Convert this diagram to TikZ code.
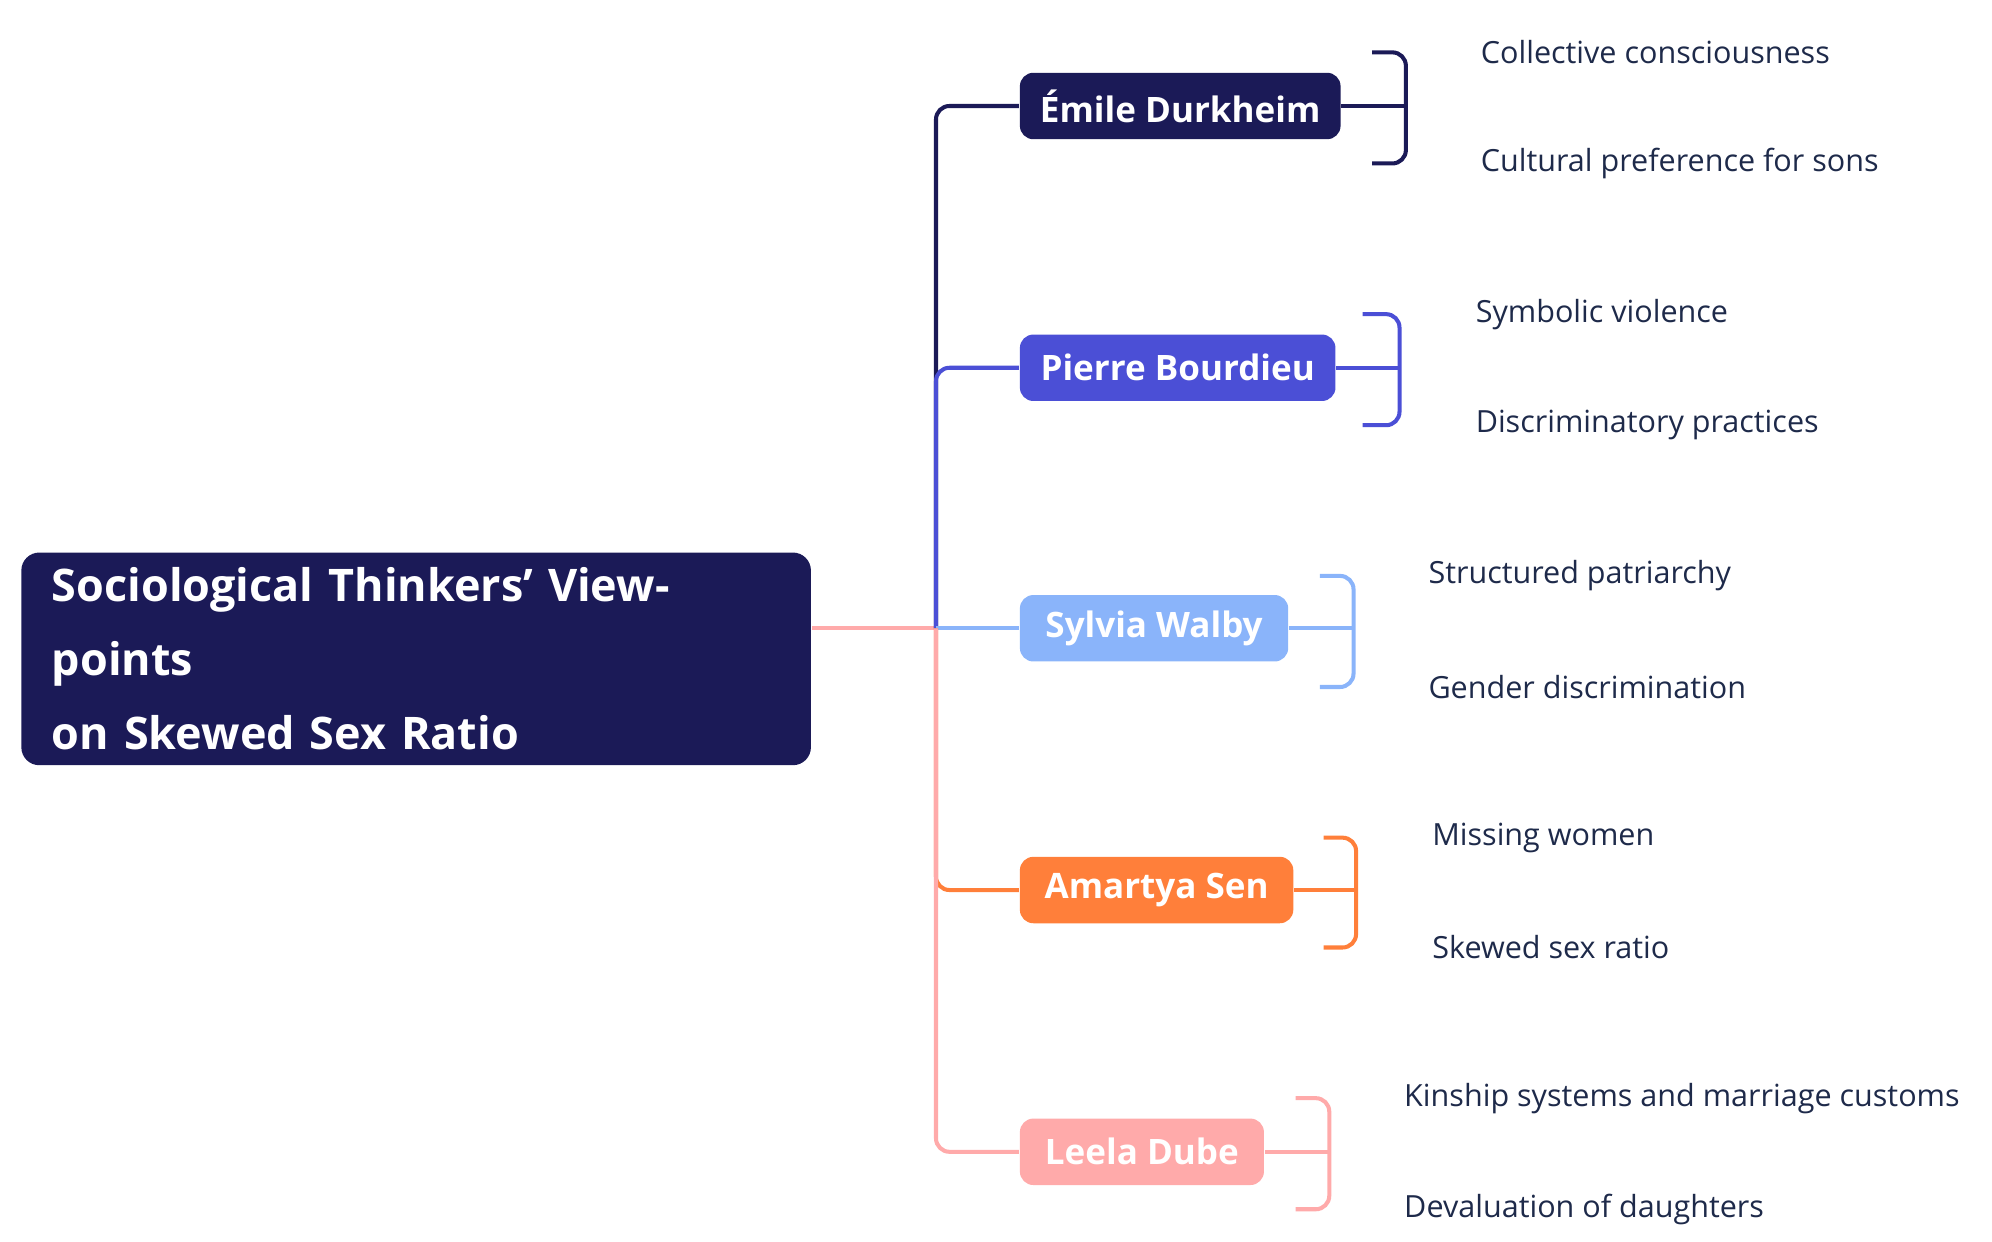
\documentclass[tikz,border=0pt]{standalone}
\usepackage{fontspec}
\setmainfont{Open Sans}
\usepackage{tikz}
\usetikzlibrary{positioning}
\definecolor{navy}{HTML}{1B1A57}
\definecolor{violet}{HTML}{4B4FD6}
\definecolor{sky}{HTML}{8AB4FA}
\definecolor{tangerine}{HTML}{FF7F3A}
\definecolor{blush}{HTML}{FFAAAA}
\definecolor{leaftext}{HTML}{1E2A4A}
\tikzset{
  thinker/.style={rectangle, rounded corners=3pt, text=white, font=\bfseries\fontsize{7.8}{9}\selectfont, minimum height=5.2mm, inner xsep=0pt, anchor=west},
  idea/.style={anchor=west, text=leaftext, font=\fontsize{6.8}{8}\selectfont, inner sep=0pt},
  link/.style={line width=0.9pt, rounded corners=3pt},
}
\begin{document}
\begin{tikzpicture}[x=0.01cm, y=-0.01cm]
    \useasboundingbox (0,0) rectangle (1560,972);

    % root
    \node[rectangle, rounded corners=4pt, fill=navy, text=white, align=left, anchor=north west,
          minimum width=6.18cm, minimum height=1.21cm, text width=5.7cm, inner xsep=2.4mm,
          font=\bfseries\fontsize{10}{16.5}\selectfont] (root) at (16,432)
          {Sociological Thinkers{\char"0027} Viewpoints\\on Skewed Sex Ratio};
    \coordinate (hub) at (733,492);

    % thinkers
    \node[thinker, fill=navy, minimum width=2.51cm] (durkheim) at (798,83) {Émile Durkheim};
    \node[thinker, fill=violet, minimum width=2.47cm] (bourdieu) at (798,288) {Pierre Bourdieu};
    \node[thinker, fill=sky, minimum width=2.10cm] (walby) at (798,492) {Sylvia Walby};
    \node[thinker, fill=tangerine, minimum width=2.14cm] (sen) at (798,697) {Amartya Sen};
    \node[thinker, fill=blush, minimum width=1.91cm] (dube) at (798,902) {Leela Dube};

    \draw[link, blush] (root.east |- hub) -- (hub);
    \draw[link, navy] (hub) -- (733,83) -- (durkheim.west);
    \draw[link, violet] (hub) -- (733,288) -- (bourdieu.west);
    \draw[link, sky] (hub) -- (walby.west);
    \draw[link, tangerine] (hub) -- (733,697) -- (sen.west);
    \draw[link, blush] (hub) -- (733,902) -- (dube.west);

    % ideas
    \node[idea] (d1) at (1159,41) {Collective consciousness};
    \node[idea] (d2) at (1159,128) {Cultural preference for sons};
    \node[idea] (b1) at (1155,246) {Symbolic violence};
    \node[idea] (b2) at (1155,333) {Discriminatory practices};
    \node[idea] (w1) at (1118,451) {Structured patriarchy};
    \node[idea] (w2) at (1118,538) {Gender discrimination};
    \node[idea] (s1) at (1121,656) {Missing women};
    \node[idea] (s2) at (1121,742) {Skewed sex ratio};
    \node[idea] (l1) at (1099,860) {Kinship systems and marriage customs};
    \node[idea] (l2) at (1099,947) {Devaluation of daughters};

    \draw[link, navy] (durkheim.east) -- (1101,83);
    \draw[link, navy] ([xshift=-24]d1.west) -- (1101,41) -- (1101,128) -- ([xshift=-24]d2.west);
    \draw[link, violet] (bourdieu.east) -- (1096,288);
    \draw[link, violet] ([xshift=-25]b1.west) -- (1096,246) -- (1096,333) -- ([xshift=-25]b2.west);
    \draw[link, sky] (walby.east) -- (1060,492);
    \draw[link, sky] ([xshift=-24]w1.west) -- (1060,451) -- (1060,538) -- ([xshift=-24]w2.west);
    \draw[link, tangerine] (sen.east) -- (1062,697);
    \draw[link, tangerine] ([xshift=-24]s1.west) -- (1062,656) -- (1062,742) -- ([xshift=-24]s2.west);
    \draw[link, blush] (dube.east) -- (1041,902);
    \draw[link, blush] ([xshift=-24]l1.west) -- (1041,860) -- (1041,947) -- ([xshift=-24]l2.west);

\end{tikzpicture}
\end{document}
